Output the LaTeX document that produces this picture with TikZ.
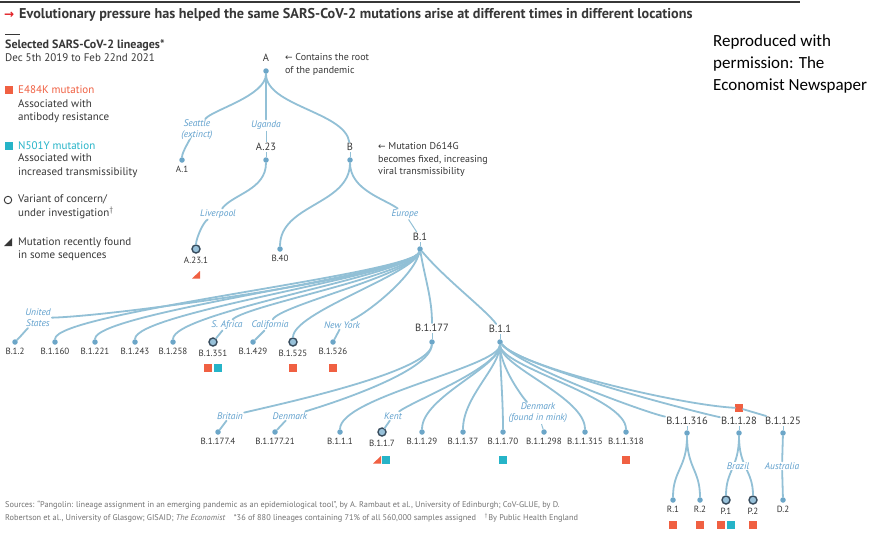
\documentclass[tikz,border=0pt]{standalone}
\usepackage{fontspec}
\setmainfont{PT Sans}
\newfontfamily\symfont{DejaVu Sans}
\newfontfamily\notefont{Carlito}
\usepackage{tikz}
\usetikzlibrary{arrows,shapes,positioning}
\usepackage{xcolor}
\definecolor{ecline}{RGB}{146,192,214}
\definecolor{ecdot}{RGB}{108,166,200}
\definecolor{ecplace}{RGB}{96,160,205}
\definecolor{ectext}{RGB}{55,55,55}
\definecolor{ecgray}{RGB}{115,115,115}
\definecolor{ecorange}{RGB}{240,96,66}
\definecolor{ecteal}{RGB}{38,180,200}
\definecolor{ecring}{RGB}{55,75,92}
\definecolor{ecred}{RGB}{226,32,38}
\tikzstyle{br} = [draw=ecline, line width=1.8pt, line cap=round]
\tikzstyle{tick} = [draw=ecline, line width=1pt]
\tikzstyle{lin} = [text=ectext, font=\fontsize{9}{10}\selectfont, inner sep=1pt, yshift=-2pt]
\tikzstyle{inl} = [text=ectext, font=\fontsize{10.5}{11}\selectfont, inner sep=1pt]
\tikzstyle{place} = [text=ecplace, font=\fontsize{9.5}{11}\selectfont\itshape, inner sep=1pt, align=center]
\tikzstyle{leaf} = [circle, fill=ecdot, inner sep=0pt, minimum size=5.5pt, label distance=5.5pt]
\tikzstyle{voc} = [circle, draw=ecring, fill=ecdot!70, line width=1.4pt, inner sep=0pt, minimum size=8pt, label distance=3.5pt]
\tikzstyle{sqe} = [rectangle, fill=ecorange, inner sep=0pt, minimum size=7.5pt]
\tikzstyle{sqn} = [rectangle, fill=ecteal, inner sep=0pt, minimum size=7.5pt]
\tikzstyle{legtext} = [text=ectext, font=\fontsize{11}{13.5}\selectfont, anchor=west, align=left, inner sep=0pt]
\tikzstyle{note} = [text=ectext, font=\fontsize{10}{12.5}\selectfont, anchor=west, align=left, inner sep=0pt]

\begin{document}
\begin{tikzpicture}[x=1pt, y=-1pt]
\useasboundingbox (0,0) rectangle (880,535);
\fill[white] (0,0) rectangle (880,535);

\begin{scope}
\clip (0,0) rectangle (800,535);
\draw[ectext, line width=2pt] (0,2) -- (800,2);
\node[anchor=west, inner sep=0pt, text=ecred, font=\symfont\bfseries\fontsize{12}{14}\selectfont] (arrow) at (4,15) {→};
\node[anchor=west, inner sep=0pt, text=ectext, font=\fontsize{14.2}{15}\selectfont\bfseries] (title) at (19,15) {Evolutionary pressure has helped the same SARS-CoV-2 mutations arise at different times in different locations};
\draw[ectext, line width=0.8pt] (5,34) -- (20,34);
\node[anchor=west, inner sep=0pt, text=ectext, font=\fontsize{12}{13}\selectfont\bfseries] (subtitle) at (5,45) {Selected SARS-CoV-2 lineages*};
\node[legtext] (dates) at (5,58) {Dec 5th 2019 to Feb 22nd 2021};

% legend
\node[sqe] (keye) at (9,90) {};
\node[legtext, text=ecorange] (keyetitle) at (18,90) {E484K mutation};
\node[legtext] (keyetext) at (18,111) {Associated with\\antibody resistance};
\node[sqn] (keyn) at (9,146) {};
\node[legtext, text=ecteal] (keyntitle) at (18,146) {N501Y mutation};
\node[legtext] (keyntext) at (18,165.5) {Associated with\\increased transmissibility};
\node[circle, draw=ectext, line width=0.9pt, inner sep=0pt, minimum size=7.5pt] (keyv) at (8,200) {};
\node[legtext] (keyvtext) at (18,206.5) {Variant of concern/\\under investigation$^\dagger$};
\fill[ectext] (4,246) -- (12,246) -- (12,238) -- cycle;
\node[legtext] (keyrtext) at (18,249) {Mutation recently found\\in some sequences};

% upper tree
\node[inl] (al) at (266,58) {A};
\node[leaf] (a) at (266,71) {};
\node[note] (rootnote) at (285,64.5) {{\symfont\fontsize{9}{10}\selectfont←} Contains the root\\of the pandemic};
\node[place] (seattle) at (197,130) {Seattle\\(extinct)};
\node[leaf, label={[lin]below:A.1}] (a1) at (182,160) {};
\node[place] (uganda) at (266,125) {Uganda};
\node[inl] (a23l) at (266,147) {A.23};
\node[leaf] (a23) at (266,160) {};
\node[inl] (bl) at (350,147) {B};
\node[leaf] (b) at (350,160) {};
\node[note] (bnote) at (378,159.5) {{\symfont\fontsize{9}{10}\selectfont←} Mutation D614G\\becomes fixed, increasing\\viral transmissibility};
\node[place] (liverpool) at (218,214) {Liverpool};
\node[voc, label={[lin]below:A.23.1}] (a231) at (196,249) {};
\fill[ecorange] (192,278.5) -- (200,278.5) -- (200,271) -- cycle;
\node[leaf, label={[lin]below:B.40}] (b40) at (280,249) {};
\node[place] (europe) at (405,214) {Europe};
\node[inl] (b1l) at (420,237) {B.1};
\node[leaf] (b1) at (420,249) {};

\draw[br] (a) .. controls +(0,25) and +(15,-20) .. (seattle);
\draw[br] (seattle) .. controls +(-6,8) and +(0,-8) .. (a1);
\draw[br] (a) -- (uganda);
\draw[tick] (uganda) -- (a23l);
\draw[tick] (a23l) -- (a23);
\draw[br] (a) .. controls +(0,35) and +(-5,-35) .. (bl);
\draw[tick] (bl) -- (b);
\draw[br] (a23) .. controls +(0,30) and +(15,-20) .. (liverpool);
\draw[br] (liverpool) .. controls +(-15,8) and +(0,-10) .. (a231);
\draw[br] (b) .. controls +(0,45) and +(0,-45) .. (b40);
\draw[br] (b) .. controls +(0,30) and +(-20,-15) .. (europe);
\draw[tick] (europe) -- (b1l);
\draw[tick] (b1l) -- (b1);

% B.1 lineages
\node[place] (usa) at (38,318) {United\\States};
\node[place] (safrica) at (227,325) {S. Africa};
\node[place] (california) at (270,325) {California};
\node[place] (newyork) at (342,325) {New York};
\node[leaf, label={[lin]below:B.1.2}] (b12) at (15,342) {};
\node[leaf, label={[lin]below:B.1.160}] (b1160) at (55,342) {};
\node[leaf, label={[lin]below:B.1.221}] (b1221) at (95,342) {};
\node[leaf, label={[lin]below:B.1.243}] (b1243) at (135,342) {};
\node[leaf, label={[lin]below:B.1.258}] (b1258) at (173,342) {};
\node[voc, label={[lin]below:B.1.351}] (b1351) at (213,342) {};
\node[leaf, label={[lin]below:B.1.429}] (b1429) at (253,342) {};
\node[voc, label={[lin]below:B.1.525}] (b1525) at (293,342) {};
\node[leaf, label={[lin]below:B.1.526}] (b1526) at (333,342) {};
\node[inl] (b1177l) at (432,328) {B.1.177};
\node[leaf] (b1177) at (432,342) {};
\node[inl] (b11l) at (500,329) {B.1.1};
\node[leaf] (b11) at (500,342) {};
\node[sqe] (m1351e) at (208,368) {};
\node[sqn] (m1351n) at (218,368) {};
\node[sqe] (m1525e) at (293,368) {};
\node[sqe] (m1526e) at (333,368) {};

\draw[br] (b1) .. controls +(-5,25) and +(80,-2) .. (usa);
\draw[br] (usa) .. controls +(-12,12) and +(6,-6) .. (b12);
\draw[br] (b1) .. controls +(-5,25) and +(0,-30) .. (b1160);
\draw[br] (b1) .. controls +(-5,25) and +(0,-30) .. (b1221);
\draw[br] (b1) .. controls +(-5,25) and +(0,-30) .. (b1243);
\draw[br] (b1) .. controls +(-5,25) and +(0,-30) .. (b1258);
\draw[br] (b1) .. controls +(-5,25) and +(20,-20) .. (safrica);
\draw[br] (safrica) -- (b1351);
\draw[br] (b1) .. controls +(-5,25) and +(10,-20) .. (california);
\draw[br] (california) -- (b1429);
\draw[br] (b1) .. controls +(-5,25) and +(0,-30) .. (b1525);
\draw[br] (b1) .. controls +(-5,25) and +(30,-15) .. (newyork);
\draw[br] (newyork) -- (b1526);
\draw[br] (b1) .. controls +(5,30) and +(0,-30) .. (b1177l);
\draw[tick] (b1177l) -- (b1177);
\draw[br] (b1) .. controls +(25,30) and +(-15,-20) .. (b11l);
\draw[tick] (b11l) -- (b11);

% B.1.177 and B.1.1 lineages
\node[place] (britain) at (230,416) {Britain};
\node[place] (denmark) at (290,416) {Denmark};
\node[place] (kent) at (393,416) {Kent};
\node[place] (mink) at (538,413) {Denmark\\(found in mink)};
\node[leaf, label={[lin]below:B.1.177.4}] (b11774) at (218,432) {};
\node[leaf, label={[lin]below:B.1.177.21}] (b117721) at (275,432) {};
\node[leaf, label={[lin]below:B.1.1.1}] (b1111) at (340,432) {};
\node[voc, label={[lin]below:B.1.1.7}] (b117) at (382,432) {};
\node[leaf, label={[lin]below:B.1.1.29}] (b1129) at (422,432) {};
\node[leaf, label={[lin]below:B.1.1.37}] (b1137) at (463,432) {};
\node[leaf, label={[lin]below:B.1.1.70}] (b1170) at (503,432) {};
\node[leaf, label={[lin]below:B.1.1.298}] (b11298) at (544,432) {};
\node[leaf, label={[lin]below:B.1.1.315}] (b11315) at (585,432) {};
\node[leaf, label={[lin]below:B.1.1.318}] (b11318) at (626,432) {};
\node[inl] (b11316l) at (687,421) {B.1.1.316};
\node[leaf] (b11316) at (687,433) {};
\node[inl] (b1128l) at (739,421) {B.1.1.28};
\node[leaf] (b1128) at (739,433) {};
\node[inl] (b1125l) at (783,421) {B.1.1.25};
\node[leaf] (b1125) at (783,433) {};
\node[sqe] (m1125e) at (739,408) {};
\fill[ecorange] (373,463.5) -- (381,463.5) -- (381,456) -- cycle;
\node[sqn] (m117n) at (386,460) {};
\node[sqn] (m1170n) at (503,460) {};
\node[sqe] (m11318e) at (626,460) {};

\draw[br] (b1177) .. controls +(-2,30) and +(50,-12) .. (britain);
\draw[br] (britain) -- (b11774);
\draw[br] (b1177) .. controls +(-2,30) and +(40,-12) .. (denmark);
\draw[br] (denmark) -- (b117721);
\draw[br] (b11) .. controls +(0,25) and +(0,-35) .. (b1111);
\draw[br] (b11) .. controls +(0,25) and +(20,-15) .. (kent);
\draw[br] (kent) -- (b117);
\draw[br] (b11) .. controls +(0,25) and +(0,-35) .. (b1129);
\draw[br] (b11) .. controls +(0,25) and +(0,-35) .. (b1137);
\draw[br] (b11) .. controls +(0,25) and +(0,-35) .. (b1170);
\draw[br] (b11) .. controls +(0,25) and +(-15,-15) .. (mink);
\draw[tick] (mink) -- (b11298);
\draw[br] (b11) .. controls +(0,25) and +(0,-35) .. (b11315);
\draw[br] (b11) .. controls +(0,25) and +(0,-35) .. (b11318);
\draw[br] (b11) .. controls +(20,25) and +(-40,-8) .. (b11316l);
\draw[tick] (b11316l) -- (b11316);
\draw[br] (b11) .. controls +(20,25) and +(-40,-8) .. (b1128l);
\draw[tick] (b1128l) -- (b1128);
\draw[br] (b11) .. controls +(20,25) and +(-60,-3) .. (m1125e);
\draw[br] (m1125e) -- (b1125l);
\draw[tick] (b1125l) -- (b1125);

% R, P and D lineages
\node[leaf, label={[lin]below:R.1}] (r1) at (673,500) {};
\node[leaf, label={[lin]below:R.2}] (r2) at (700,500) {};
\node[voc, label={[lin]below:P.1}] (p1) at (726,500) {};
\node[voc, label={[lin]below:P.2}] (p2) at (753,500) {};
\node[leaf, label={[lin]below:D.2}] (d2) at (783,500) {};
\node[sqe] (mr1e) at (673,525) {};
\node[sqe] (mr2e) at (700,525) {};
\node[sqe] (mp1e) at (721,525) {};
\node[sqn] (mp1n) at (731,525) {};
\node[sqe] (mp2e) at (753,525) {};

\draw[br] (b11316) .. controls +(0,35) and +(0,-30) .. (r1);
\draw[br] (b11316) .. controls +(0,35) and +(0,-30) .. (r2);
\draw[br] (b1128) .. controls +(0,35) and +(0,-30) .. (p1);
\draw[br] (b1128) .. controls +(0,35) and +(0,-30) .. (p2);
\node[place, fill=white, inner sep=0.5pt] (brazil) at (738,466) {Brazil};
\node[place] (australia) at (782,466) {Australia};
\draw[br] (b1125) -- (australia);
\draw[br] (australia) -- (d2);

\node[anchor=west, inner sep=0pt, align=left, text=ecgray, font=\fontsize{8.3}{13}\selectfont] (sources) at (5,511.5) {Sources: ``Pangolin: lineage assignment in an emerging pandemic as an epidemiological tool'', by A. Rambaut et al., University of Edinburgh; CoV-GLUE, by D.\\Robertson et al., University of Glasgow; GISAID; \textit{The Economist}\quad *36 of 880 lineages containing 71\% of all 560,000 samples assigned\quad $^\dagger$By Public Health England};
\end{scope}

\node[anchor=west, inner sep=0pt, align=left, text=black, font=\notefont\fontsize{17}{22}\selectfont] (permission) at (713,64) {Reproduced with\\permission: The\\Economist Newspaper};
\end{tikzpicture}
\end{document}
